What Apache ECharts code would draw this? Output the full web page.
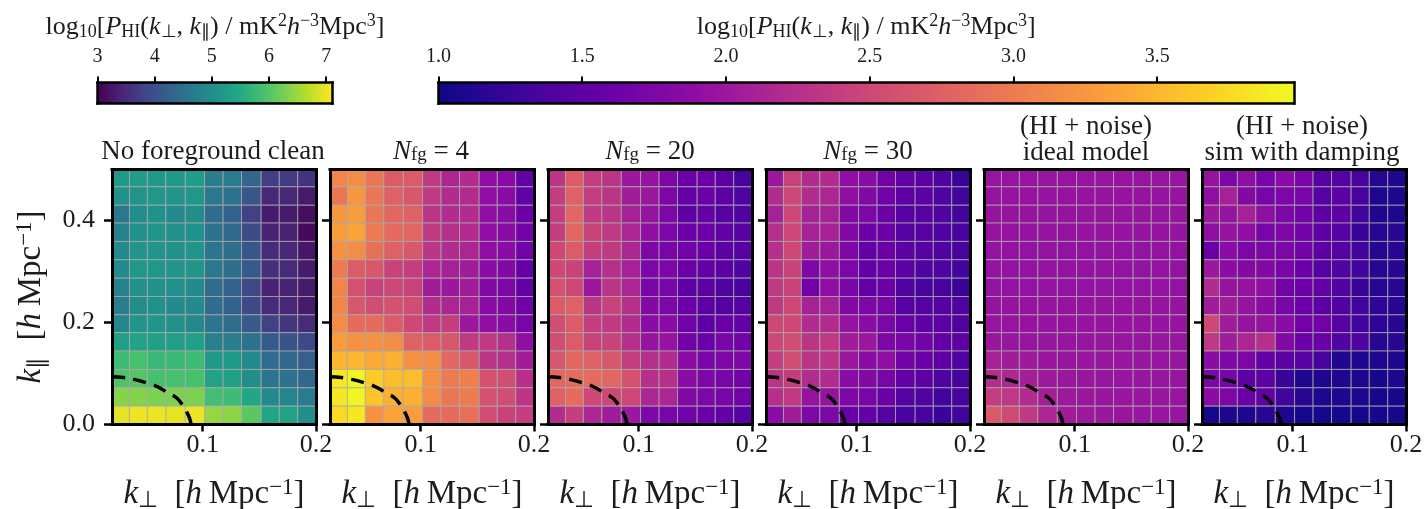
<!DOCTYPE html>
<html><head><meta charset="utf-8">
<style>html,body{margin:0;padding:0;background:#fff}#c{width:1426px;height:509px}</style>
<script src="https://cdn.jsdelivr.net/npm/echarts@6/dist/echarts.min.js"></script>
</head><body><div id="c"></div>
<script>
const kPerpEdges=[.02,.0354,.0512,.0675,.0847,.1017,.118,.1343,.1516,.1676,.1839,.2];
const kParaEdges=[0,.036,.072,.108,.144,.18,.215,.251,.287,.323,.359,.395,.43,.466,.5];
const xTicks=[0.1,0.2];
const yTicks=[0,0.2,0.4];
const cbarTicksA=[3,4,5,6,7];
const cbarTicksB=[1,1.5,2,2.5,3,3.5];
const cbarRangeA=[3,7.11];
const cbarRangeB=[1,3.976];
const viridisStops=['#440154','#482475','#414487','#355f8d','#2a788e','#21918c','#22a884','#44bf70','#7ad151','#bddf26','#fde725'];
const plasmaStops=['#0d0887','#41049d','#6a00a8','#8f0da4','#b12a90','#cc4778','#e16462','#f1844b','#fca636','#fccf25','#f0f921'];
const curveX=[.02,.03,.0393,.05,.0601,.07,.0764,.081,.0859,.0885,.0898];
const curveY=[.0937,.092,.0885,.082,.0741,.061,.0531,.042,.0249,.012,0];
const titleNoClean='No foreground clean';
// rows listed from the top of the panel down to k_par = 0
const panelNoClean=[
[5.2,5.25,5.2,5.2,5.25,4.75,4.7,4.35,3.75,3.7,3.6],
[5.05,5.1,5.15,5.1,5.15,4.65,4.55,4.1,3.45,3.45,3.3],
[4.65,5.0,5.05,4.95,5.0,4.45,4.3,3.8,3.3,3.3,3.15],
[4.8,5.05,5.1,5.05,5.05,4.55,4.4,3.95,3.4,3.4,3.1],
[4.95,5.1,5.1,5.05,5.1,4.6,4.5,4.1,3.5,3.45,3.25],
[4.95,5.15,5.15,5.1,5.1,4.65,4.5,4.15,3.55,3.5,3.3],
[4.8,5.05,5.05,5.05,4.95,4.45,4.3,3.9,3.4,3.4,3.3],
[4.75,5.0,5.05,4.95,4.95,4.45,4.3,3.9,3.5,3.45,3.3],
[4.85,5.1,5.1,5.05,4.9,4.6,4.45,4.15,3.8,3.65,3.5],
[5.3,5.35,5.3,5.3,5.3,4.8,4.75,4.55,4.15,4.05,3.9],
[5.8,5.9,5.75,5.75,5.8,5.2,5.2,4.95,4.45,4.4,4.25],
[5.95,6.0,5.9,5.9,5.9,5.35,5.3,5.0,4.6,4.55,4.4],
[6.35,6.35,6.3,6.3,6.3,5.85,5.8,5.45,4.9,4.85,4.7],
[6.95,7.0,7.0,6.95,7.0,6.45,6.4,6.05,5.4,5.35,5.0]];
const panelFg4=[
[3.1,3.15,2.95,2.7,2.7,2.35,2.15,2.2,1.9,1.85,1.55],
[2.95,3.25,2.95,2.75,2.65,2.35,2.2,2.2,1.9,1.85,1.55],
[3.25,3.3,2.95,2.8,2.75,2.3,2.2,2.2,1.9,1.85,1.6],
[3.3,3.35,3.0,2.85,2.8,2.35,2.25,2.2,1.9,1.85,1.65],
[3.2,3.15,2.9,2.75,2.65,2.3,2.2,2.15,1.9,1.85,1.65],
[3.0,2.7,2.65,2.45,2.4,2.15,2.1,2.05,1.85,1.8,1.55],
[3.1,2.6,2.45,2.5,2.45,2.05,2.0,2.05,1.8,1.75,1.55],
[3.1,2.65,2.55,2.6,2.55,2.2,2.15,2.1,1.85,1.8,1.65],
[3.15,2.85,2.85,2.7,2.5,2.35,2.4,2.0,1.9,1.85,1.7],
[3.3,3.2,3.2,3.15,2.75,2.7,2.65,2.35,2.35,2.25,1.9],
[3.5,3.5,3.4,3.45,3.2,3.15,2.8,2.65,2.3,2.25,2.05],
[3.85,3.95,3.65,3.55,3.55,3.2,3.0,3.05,2.6,2.55,2.25],
[3.85,3.95,3.6,3.45,3.45,3.15,2.95,3.0,2.6,2.55,2.3],
[3.75,3.85,3.2,3.35,3.3,2.85,2.85,2.9,2.55,2.45,2.4]];
const panelFg20=[
[2.3,2.7,2.4,2.3,2.0,1.95,1.75,1.6,1.6,1.5,1.35],
[2.4,2.75,2.4,2.3,2.05,2.0,1.75,1.55,1.6,1.5,1.4],
[2.4,2.8,2.35,2.3,2.1,1.95,1.75,1.5,1.55,1.45,1.4],
[2.4,2.8,2.45,2.35,2.15,1.9,1.75,1.6,1.6,1.55,1.45],
[2.5,2.7,2.4,2.35,2.15,1.75,1.7,1.65,1.6,1.5,1.45],
[2.5,2.45,2.1,2.25,2.1,1.75,1.75,1.6,1.55,1.5,1.4],
[2.6,2.5,2.0,2.3,2.15,1.7,1.7,1.5,1.5,1.4,1.35],
[2.7,2.75,2.3,2.45,2.25,1.8,1.75,1.6,1.5,1.45,1.45],
[2.55,2.7,2.4,2.35,2.2,1.85,1.85,1.65,1.5,1.6,1.55],
[2.55,2.7,2.45,2.45,2.25,1.95,1.95,1.65,1.6,1.7,1.65],
[2.65,2.8,2.75,2.65,2.4,2.25,2.2,1.85,1.7,1.75,1.75],
[2.8,2.85,2.85,2.8,2.6,2.25,2.25,1.85,1.75,1.7,1.65],
[2.75,2.85,2.5,2.5,2.5,2.15,2.15,1.8,1.75,1.7,1.65],
[2.2,2.4,2.15,2.05,2.0,1.75,1.7,1.65,1.6,1.55,1.45]];
const panelFg30=[
[2.0,2.45,2.2,2.2,1.9,1.85,1.65,1.55,1.5,1.4,1.25],
[2.2,2.5,2.2,2.15,1.9,1.8,1.65,1.5,1.5,1.4,1.3],
[2.1,2.5,2.1,2.1,1.8,1.75,1.6,1.45,1.45,1.4,1.3],
[2.25,2.5,2.1,2.1,1.8,1.6,1.6,1.45,1.45,1.4,1.35],
[2.25,2.5,2.05,2.0,1.75,1.55,1.6,1.5,1.45,1.4,1.35],
[2.3,2.45,1.75,1.9,1.75,1.55,1.6,1.5,1.4,1.4,1.3],
[2.35,2.45,1.65,1.9,1.7,1.55,1.6,1.4,1.35,1.35,1.25],
[2.35,2.5,2.1,2.1,1.8,1.75,1.7,1.45,1.45,1.45,1.4],
[2.5,2.5,2.2,2.2,1.95,1.85,1.75,1.6,1.5,1.5,1.4],
[2.5,2.55,2.3,2.35,2.05,2.0,1.75,1.7,1.65,1.55,1.5],
[2.4,2.55,2.3,2.3,2.0,1.85,1.9,1.65,1.6,1.5,1.4],
[2.3,2.4,2.2,2.2,1.85,1.8,1.7,1.55,1.5,1.4,1.35],
[2.25,2.35,1.95,1.95,1.75,1.7,1.6,1.45,1.4,1.3,1.35],
[1.85,2.05,1.75,1.75,1.6,1.55,1.45,1.35,1.35,1.25,1.3]];
const panelIdeal=[
[1.96,1.96,1.96,1.96,1.96,1.96,1.96,1.96,1.96,1.96,1.96],
[1.95,1.95,1.95,1.95,1.95,1.95,1.95,1.95,1.95,1.95,1.95],
[1.95,1.95,1.95,1.95,1.95,1.95,1.95,1.95,1.95,1.95,1.95],
[1.95,1.95,1.95,1.95,1.95,1.95,1.95,1.95,1.95,1.95,1.95],
[1.94,1.94,1.94,1.94,1.94,1.94,1.94,1.94,1.94,1.94,1.94],
[1.94,1.94,1.94,1.94,1.94,1.94,1.94,1.94,1.94,1.94,1.94],
[1.94,1.94,1.94,1.94,1.94,1.94,1.94,1.94,1.94,1.94,1.94],
[1.95,1.95,1.95,1.95,1.95,1.95,1.95,1.95,1.95,1.95,1.95],
[1.96,1.96,1.95,1.95,1.95,1.95,1.95,1.95,1.95,1.95,1.95],
[1.98,1.97,1.96,1.96,1.96,1.96,1.96,1.96,1.96,1.96,1.96],
[2.1,2.05,2.02,1.98,1.97,1.97,1.97,1.97,1.97,1.97,1.97],
[2.22,2.17,2.08,2.02,1.99,1.98,1.97,1.97,1.97,1.97,1.97],
[2.4,2.33,2.2,2.08,2.01,1.99,1.98,1.97,1.97,1.97,1.97],
[2.68,2.52,2.34,2.14,2.05,2.01,1.99,1.98,1.97,1.97,1.97]];
const panelDamped=[
[1.95,1.75,1.9,1.7,1.85,1.7,1.45,1.45,1.35,1.15,1.1],
[1.9,2.1,1.8,1.7,1.75,1.7,1.45,1.5,1.35,1.1,1.1],
[2.0,1.95,2.1,1.9,1.75,1.65,1.5,1.5,1.3,1.1,1.1],
[1.9,1.95,1.9,1.7,1.75,1.65,1.5,1.45,1.25,1.15,1.15],
[1.6,1.85,1.75,1.75,1.75,1.65,1.5,1.45,1.3,1.15,1.15],
[2.0,1.85,1.8,1.8,1.7,1.6,1.45,1.4,1.3,1.15,1.15],
[2.2,1.95,1.95,1.9,1.65,1.6,1.55,1.4,1.25,1.15,1.15],
[2.05,2.05,1.95,1.85,1.7,1.6,1.5,1.4,1.3,1.2,1.15],
[2.5,2.05,1.95,1.95,1.85,1.65,1.65,1.45,1.3,1.2,1.15],
[2.35,2.05,2.15,2.25,1.8,1.6,1.6,1.4,1.4,1.15,1.15],
[1.85,1.75,1.75,1.55,1.5,1.45,1.35,1.1,1.1,1.1,1.1],
[1.75,1.7,1.5,1.5,1.25,1.1,1.1,1.1,1.1,1.05,1.1],
[1.85,1.75,1.6,1.55,1.3,1.15,1.1,1.1,1.1,1.05,1.05],
[1.05,1.1,1.1,1.15,1.1,1.05,1.05,1.05,1.05,1.05,1.05]];

const FONT='"Liberation Serif","Times New Roman",serif', INK='#1c1c1c';
function richFor(s,lhf){
  const sm=Math.round(s*0.7), lh=Math.round(s*(lhf||1.1));
  const base={fontFamily:FONT,color:INK,fontWeight:'normal'};
  return {
    n:{...base,fontSize:s,lineHeight:lh},
    i:{...base,fontSize:s,fontStyle:'italic',lineHeight:lh},
    subn:{...base,fontSize:sm,verticalAlign:'bottom',lineHeight:sm},
    sup:{...base,fontSize:sm,verticalAlign:'top',lineHeight:sm}
  };
}
const kPerpLabel='{i|k}{subn|⊥}{n|  [}{i|h}{n|\u2009Mpc}{sup|−1}{n|]}';
const kParaLabel='{i|k}{subn|∥}{n|  [}{i|h}{n|\u2009Mpc}{sup|−1}{n|]}';
const cbarLabel='{n|log}{subn|10}{n|[}{i|P}{subn|HI}{n|(}{i|k}{subn|⊥}{n|, }{i|k}{subn|∥}{n|) / mK}{sup|2}{i|h}{sup|−3}{n|Mpc}{sup|3}{n|]}';

const panels=[
 {data:panelNoClean,map:viridisStops,range:cbarRangeA,title:'{n|'+titleNoClean+'}',center:213},
 {data:panelFg4,map:plasmaStops,range:cbarRangeB,title:'{i|N}{subn|fg}{n| = 4}',center:431},
 {data:panelFg20,map:plasmaStops,range:cbarRangeB,title:'{i|N}{subn|fg}{n| = 20}',center:650},
 {data:panelFg30,map:plasmaStops,range:cbarRangeB,title:'{i|N}{subn|fg}{n| = 30}',center:868},
 {data:panelIdeal,map:plasmaStops,range:cbarRangeB,title:'{n|(HI + noise)}\n{n|ideal model}',center:1086},
 {data:panelDamped,map:plasmaStops,range:cbarRangeB,title:'{n|(HI + noise)}\n{n|sim with damping}',center:1302}
];
const PW=204,PH=255,PT=169.5,SP=3;
const grid=[],xAxis=[],yAxis=[],series=[],title=[];
const line={lineStyle:{color:'#000',width:SP,cap:'square'}};
panels.forEach((p,k)=>{
  const L=112+218*k;
  grid.push({left:L,top:PT,width:PW,height:PH,outerBoundsMode:'none',containLabel:false});
  const xb=xAxis.length,yb=yAxis.length;
  xAxis.push({gridIndex:k,type:'value',min:.02,max:.2,position:'bottom',z:6,splitLine:{show:false},
    axisLine:{show:true,onZero:false,...line},
    axisTick:{show:true,length:7,lineStyle:{color:'#000',width:2.5},customValues:xTicks},
    axisLabel:{show:true,fontFamily:FONT,fontSize:26,color:INK,margin:8,customValues:xTicks,formatter:v=>v.toFixed(1)},
    name:kPerpLabel,nameLocation:'middle',nameGap:52,nameTextStyle:{rich:richFor(33)}});
  xAxis.push({gridIndex:k,type:'value',min:.02,max:.2,position:'top',z:6,splitLine:{show:false},
    axisLine:{show:true,onZero:false,...line},axisTick:{show:false},axisLabel:{show:false}});
  yAxis.push({gridIndex:k,type:'value',min:0,max:.5,position:'left',z:6,splitLine:{show:false},
    axisLine:{show:true,onZero:false,...line},
    axisTick:{show:true,length:8,lineStyle:{color:'#000',width:2.5},customValues:yTicks},
    axisLabel:{show:k===0,fontFamily:FONT,fontSize:26,color:INK,margin:17,customValues:yTicks,formatter:v=>v.toFixed(1)},
    ...(k===0?{name:kParaLabel,nameLocation:'middle',nameGap:63,nameRotate:90,nameTextStyle:{rich:richFor(33)}}:{})});
  yAxis.push({gridIndex:k,type:'value',min:0,max:.5,position:'right',z:6,splitLine:{show:false},
    axisLine:{show:true,onZero:false,...line},axisTick:{show:false},axisLabel:{show:false}});
  const cells=[];
  p.data.forEach((row,r)=>{
    const j=p.data.length-1-r;
    row.forEach((v,i)=>cells.push([kPerpEdges[i],kParaEdges[j],kPerpEdges[i+1],kParaEdges[j+1],v]));
  });
  series.push({type:'custom',xAxisIndex:xb,yAxisIndex:yb,silent:true,clip:true,z:2,data:cells,
    encode:{x:[0,2],y:[1,3]},animation:false,
    renderItem:(params,api)=>{
      const a=api.coord([api.value(0),api.value(1)]),b=api.coord([api.value(2),api.value(3)]);
      const t=(api.value(4)-p.range[0])/(p.range[1]-p.range[0]);
      return {type:'rect',shape:{x:a[0],y:b[1],width:b[0]-a[0],height:a[1]-b[1]},
        style:{fill:echarts.color.lerp(Math.max(0,Math.min(1,t)),p.map),stroke:'rgba(170,170,170,0.75)',lineWidth:1}};
    }});
  series.push({type:'line',xAxisIndex:xb,yAxisIndex:yb,z:4,symbol:'none',smooth:true,animation:false,silent:true,
    data:curveX.map((x,i)=>[x,curveY[i]]),lineStyle:{color:'#000',width:3.5,type:[13,8.5]}});
  const two=p.title.includes('\n');
  title.push({text:p.title,left:p.center,textAlign:'center',top:two?113.5:139,padding:0,itemGap:0,
    textStyle:{fontWeight:'normal',rich:richFor(27,0.98)}});
});
// colour bars
[{L:97.5,W:235,range:cbarRangeA,ticks:cbarTicksA,map:viridisStops,dp:0},
 {L:438.5,W:855.5,range:cbarRangeB,ticks:cbarTicksB,map:plasmaStops,dp:1}].forEach(c=>{
  const g=grid.length;
  grid.push({left:c.L,top:82.5,width:c.W,height:21,outerBoundsMode:'none',containLabel:false});
  const xi=xAxis.length,yi=yAxis.length;
  const thin={lineStyle:{color:'#000',width:2.5,cap:'square'}};
  xAxis.push({gridIndex:g,type:'value',min:c.range[0],max:c.range[1],position:'top',z:6,splitLine:{show:false},
    axisLine:{show:true,onZero:false,...thin},
    axisTick:{show:true,length:6,lineStyle:{color:'#000',width:2},customValues:c.ticks},
    axisLabel:{show:true,fontFamily:FONT,fontSize:20,color:INK,margin:16,customValues:c.ticks,formatter:v=>v.toFixed(c.dp)},
    name:cbarLabel,nameLocation:'middle',nameGap:41,nameTextStyle:{rich:richFor(26)}});
  xAxis.push({gridIndex:g,type:'value',min:c.range[0],max:c.range[1],position:'bottom',z:6,splitLine:{show:false},
    axisLine:{show:true,onZero:false,...thin},axisTick:{show:false},axisLabel:{show:false}});
  yAxis.push({gridIndex:g,type:'value',min:0,max:1,position:'left',z:6,splitLine:{show:false},
    axisLine:{show:true,onZero:false,...thin},axisTick:{show:false},axisLabel:{show:false}});
  yAxis.push({gridIndex:g,type:'value',min:0,max:1,position:'right',z:6,splitLine:{show:false},
    axisLine:{show:true,onZero:false,...thin},axisTick:{show:false},axisLabel:{show:false}});
  series.push({type:'custom',xAxisIndex:xi,yAxisIndex:yi,silent:true,animation:false,z:2,data:[[c.range[0],0,c.range[1],1]],
    encode:{x:[0,2],y:[1,3]},
    renderItem:(params,api)=>{
      const a=api.coord([api.value(0),api.value(1)]),b=api.coord([api.value(2),api.value(3)]);
      return {type:'rect',shape:{x:a[0],y:b[1],width:b[0]-a[0],height:a[1]-b[1]},
        style:{fill:new echarts.graphic.LinearGradient(0,0,1,0,c.map.map((col,i)=>({offset:i/(c.map.length-1),color:col})))}};
    }});
});
const chart=echarts.init(document.getElementById('c'),null,{renderer:'canvas'});
chart.setOption({animation:false,backgroundColor:'#fff',title,grid,xAxis,yAxis,series});
</script></body></html>
